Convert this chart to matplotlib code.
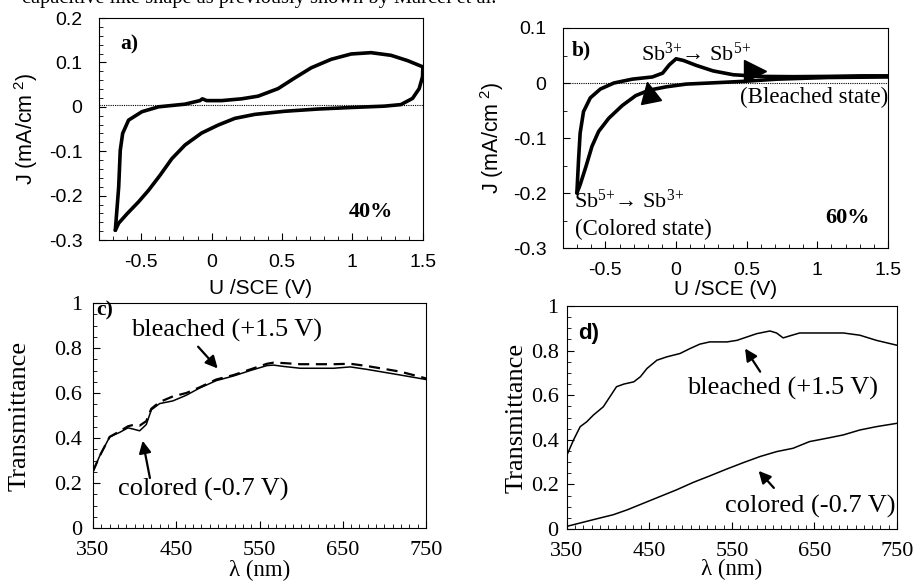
import numpy as np
import matplotlib
matplotlib.use('Agg')
import matplotlib.pyplot as plt
from matplotlib.ticker import MultipleLocator
from matplotlib.markers import MarkerStyle
from matplotlib.transforms import Affine2D

# ---- data ----
# a) 40 % : cyclic voltammogram
a_up_u = [-0.684, -0.660, -0.649, -0.632, -0.590, -0.495, -0.377, -0.189, -0.083, -0.066,
          -0.035, 0.071, 0.212, 0.330, 0.472, 0.590, 0.708, 0.849, 0.991, 1.132, 1.274, 1.392, 1.5]
a_up_j = [-0.278, -0.180, -0.098, -0.060, -0.030, -0.011, 0.000, 0.006, 0.014, 0.018,
          0.014, 0.014, 0.018, 0.024, 0.041, 0.065, 0.088, 0.107, 0.119, 0.122, 0.116, 0.104, 0.090]
a_dn_u = [1.5, 1.498, 1.474, 1.427, 1.344, 1.226, 0.991, 0.755, 0.519, 0.307, 0.165, 0.047,
          -0.071, -0.189, -0.283, -0.366, -0.448, -0.519, -0.601, -0.660, -0.684]
a_dn_j = [0.090, 0.068, 0.041, 0.019, 0.005, 0.0015, -0.0015, -0.005, -0.010, -0.017, -0.026,
          -0.041, -0.059, -0.086, -0.117, -0.154, -0.188, -0.214, -0.241, -0.262, -0.278]

# b) 60 %
b_up_u = [-0.702, -0.690, -0.679, -0.655, -0.607, -0.536, -0.440, -0.310, -0.167, -0.095,
          -0.048, 0.000, 0.052, 0.143, 0.262, 0.405, 0.595, 0.833, 1.071, 1.310, 1.5]
b_up_j = [-0.200, -0.139, -0.091, -0.052, -0.027, -0.011, 0.000, 0.007, 0.011, 0.018,
          0.033, 0.044, 0.041, 0.032, 0.022, 0.015, 0.012, 0.0115, 0.012, 0.013, 0.013]
b_dn_u = [1.5, 1.071, 0.714, 0.476, 0.238, 0.071, -0.071, -0.190, -0.286, -0.381, -0.476,
          -0.548, -0.595, -0.638, -0.679, -0.702]
b_dn_j = [0.011, 0.010, 0.007, 0.003, 0.000, -0.002, -0.007, -0.013, -0.023, -0.041, -0.064,
          -0.088, -0.115, -0.152, -0.185, -0.200]
b_arrow_u = [0.56, -0.19]
b_arrow_j = [0.021, -0.016]

# c) 40 % transmittance
c_wl = [350, 358, 370, 382, 392, 398, 406, 414, 420, 430, 446, 462, 478, 498, 519, 539,
        559, 567, 579, 599, 639, 659, 679, 719, 750]
c_colored = [0.252, 0.32, 0.405, 0.425, 0.445, 0.44, 0.432, 0.46, 0.525, 0.553, 0.565, 0.59,
             0.622, 0.655, 0.676, 0.70, 0.722, 0.724, 0.718, 0.71, 0.71, 0.716, 0.705, 0.68, 0.66]
c_bleached = [0.252, 0.32, 0.405, 0.43, 0.452, 0.458, 0.455, 0.475, 0.53, 0.56, 0.585, 0.600,
              0.625, 0.66, 0.68, 0.705, 0.73, 0.735, 0.733, 0.728, 0.728, 0.73, 0.72, 0.695, 0.665]

# d) 60 % transmittance
d_wl_b = [350, 358, 366, 374, 382, 394, 402, 410, 419, 431, 439, 447, 459, 471, 487, 499,
          511, 523, 544, 556, 568, 580, 596, 604, 612, 620, 632, 665, 685, 705, 725, 750]
d_bleached = [0.332, 0.40, 0.459, 0.481, 0.511, 0.548, 0.593, 0.638, 0.65, 0.66, 0.683, 0.72,
              0.757, 0.772, 0.787, 0.809, 0.829, 0.839, 0.839, 0.846, 0.861, 0.876, 0.888,
              0.879, 0.857, 0.866, 0.879, 0.879, 0.879, 0.869, 0.846, 0.824]
d_wl_c = [350, 366, 382, 406, 423, 443, 463, 483, 503, 523, 543, 564, 584, 604, 624, 644,
          665, 685, 705, 725, 750]
d_colored = [0.012, 0.027, 0.042, 0.064, 0.086, 0.116, 0.146, 0.176, 0.209, 0.238, 0.268,
             0.298, 0.325, 0.347, 0.362, 0.392, 0.407, 0.422, 0.444, 0.459, 0.474]

SANS = ['Liberation Sans', 'DejaVu Sans']
SERIF = ['Liberation Serif', 'DejaVu Serif']

fig = plt.figure(figsize=(9.2, 5.87), dpi=100)

# clipped line of body text above the figure
fig.text(0.024, 0.9945, 'capacitive like shape as previously shown by Marcel et al.',
         family=SERIF, fontsize=14.7, va='baseline', ha='left')


def style_axes(ax, font, size, xpad, ypad):
    for s in ax.spines.values():
        s.set_linewidth(0.8)
    ax.tick_params(which='both', direction='in', top=False, right=False)
    ax.tick_params(which='major', length=5, width=0.8, labelsize=size)
    ax.tick_params(axis='x', which='major', pad=xpad)
    ax.tick_params(axis='y', which='major', pad=ypad)
    ax.tick_params(which='minor', length=3, width=0.6)
    for lab in ax.get_xticklabels() + ax.get_yticklabels():
        lab.set_family(font)


SUP3 = '$\\mathregular{^{3{+}}}$'
SUP5 = '$\\mathregular{^{5{+}}}$'
ARROW = dict(arrowstyle='-|>', color='k', lw=1.6, mutation_scale=18)

# ---- a) ----
ax_a = fig.add_axes([0.1076, 0.5911, 0.352, 0.3782])
ax_a.plot(a_up_u, a_up_j, color='k', lw=2.6, solid_capstyle='round')
ax_a.plot(a_dn_u, a_dn_j, color='k', lw=2.6, solid_capstyle='round')
ax_a.axhline(0.004, color='k', lw=0.8, ls=(0, (1, 1)))
ax_a.set_xlim(-0.8, 1.5)
ax_a.set_ylim(-0.3, 0.2)
ax_a.set_xticks([-0.5, 0, 0.5, 1, 1.5])
ax_a.set_xticklabels(['-0.5', '0', '0.5', '1', '1.5'])
ax_a.set_yticks([-0.3, -0.2, -0.1, 0, 0.1, 0.2])
ax_a.set_yticklabels(['-0.3', '-0.2', '-0.1', '0', '0.1', '0.2'])
ax_a.xaxis.set_minor_locator(MultipleLocator(0.1))
ax_a.yaxis.set_minor_locator(MultipleLocator(0.02))
style_axes(ax_a, SANS, 14, 10, 12)
ax_a.set_xlabel('U /SCE (V)', family=SANS, fontsize=15, labelpad=6)
ax_a.set_ylabel('J (mA/cm$\\mathregular{^{\\ 2}}$)', family=SANS, fontsize=15.5, labelpad=6)
ax_a.text(0.065, 0.86, 'a)', transform=ax_a.transAxes, family=SERIF, fontsize=15.5,
          fontweight='bold')
ax_a.text(0.77, 0.105, '40%', transform=ax_a.transAxes, family=SERIF, fontsize=16,
          fontweight='bold')

# ---- b) ----
ax_b = fig.add_axes([0.612, 0.5775, 0.3532, 0.3748])
ax_b.plot(b_up_u, b_up_j, color='k', lw=2.6, solid_capstyle='round')
ax_b.plot(b_dn_u, b_dn_j, color='k', lw=2.6, solid_capstyle='round')
ax_b.axhline(0, color='k', lw=0.8, ls=(0, (1, 1)))
ax_b.plot(b_arrow_u[0], b_arrow_j[0], marker='>', ms=16, color='k', ls='none')
ax_b.plot(b_arrow_u[1], b_arrow_j[1],
          marker=MarkerStyle('^', transform=Affine2D().rotate_deg(12)),
          ms=15, color='k', ls='none')
ax_b.set_xlim(-0.8, 1.5)
ax_b.set_ylim(-0.3, 0.1)
ax_b.set_xticks([-0.5, 0, 0.5, 1, 1.5])
ax_b.set_xticklabels(['-0.5', '0', '0.5', '1', '1.5'])
ax_b.set_yticks([-0.3, -0.2, -0.1, 0, 0.1])
ax_b.set_yticklabels(['-0.3', '-0.2', '-0.1', '0', '0.1'])
ax_b.xaxis.set_minor_locator(MultipleLocator(0.1))
ax_b.yaxis.set_minor_locator(MultipleLocator(0.05))
style_axes(ax_b, SANS, 14, 10, 12)
ax_b.set_xlabel('U /SCE (V)', family=SANS, fontsize=15, labelpad=1)
ax_b.set_ylabel('J (mA/cm$\\mathregular{^{\\ 2}}$)', family=SANS, fontsize=15.5, labelpad=5)
ax_b.text(-0.74, 0.06, 'b)', family=SERIF, fontsize=15.5, fontweight='bold', va='center')
ax_b.text(-0.25, 0.052, 'Sb' + SUP3 + '\u2192 Sb' + SUP5,
          family=SERIF, fontsize=16, va='center')
ax_b.text(1.5, -0.027, '(Bleached state)', family=SERIF, fontsize=16.5, va='center', ha='right')
ax_b.text(-0.72, -0.215, 'Sb' + SUP5 + '\u2192 Sb' + SUP3,
          family=SERIF, fontsize=16, va='center')
ax_b.text(-0.715, -0.267, '(Colored state)', family=SERIF, fontsize=16.5, va='center')
ax_b.text(1.37, -0.245, '60%', family=SERIF, fontsize=16, fontweight='bold',
          va='center', ha='right')

# ---- c) ----
ax_c = fig.add_axes([0.1011, 0.1005, 0.362, 0.3833])
ax_c.plot(c_wl, c_colored, color='k', lw=1.1)
ax_c.plot(c_wl, c_bleached, color='k', lw=1.6, ls=(0, (5, 3)))
ax_c.set_xlim(350, 750)
ax_c.set_ylim(0, 1)
ax_c.set_xticks([350, 450, 550, 650, 750])
ax_c.set_yticks([0, 0.2, 0.4, 0.6, 0.8, 1])
ax_c.set_yticklabels(['0', '0.2', '0.4', '0.6', '0.8', '1'])
ax_c.xaxis.set_minor_locator(MultipleLocator(10))
ax_c.yaxis.set_minor_locator(MultipleLocator(0.05))
style_axes(ax_c, SERIF, 16, 9, 8)
ax_c.set_xlabel('\u03bb (nm)', family=SERIF, fontsize=16.5, labelpad=0)
ax_c.set_ylabel('Transmittance', family=SERIF, fontsize=19, labelpad=17)
ax_c.text(354, 0.965, 'c)', family=SERIF, fontsize=15.5, fontweight='bold', va='center')
ax_c.text(396, 0.88, 'bleached (+1.5 V)', family=SERIF, fontsize=19, va='center')
ax_c.annotate('', xy=(502, 0.70), xytext=(474, 0.815), arrowprops=ARROW)
ax_c.text(380, 0.17, 'colored (-0.7 V)', family=SERIF, fontsize=19, va='center')
ax_c.annotate('', xy=(409, 0.40), xytext=(419, 0.21), arrowprops=ARROW)

# ---- d) ----
ax_d = fig.add_axes([0.6163, 0.0988, 0.3587, 0.3799])
ax_d.plot(d_wl_b, d_bleached, color='k', lw=1.1)
ax_d.plot(d_wl_c, d_colored, color='k', lw=1.1)
ax_d.set_xlim(350, 750)
ax_d.set_ylim(0, 1)
ax_d.set_xticks([350, 450, 550, 650, 750])
ax_d.set_yticks([0, 0.2, 0.4, 0.6, 0.8, 1])
ax_d.set_yticklabels(['0', '0.2', '0.4', '0.6', '0.8', '1'])
ax_d.xaxis.set_minor_locator(MultipleLocator(10))
ax_d.yaxis.set_minor_locator(MultipleLocator(0.05))
style_axes(ax_d, SERIF, 16, 9, 6)
ax_d.set_xlabel('\u03bb (nm)', family=SERIF, fontsize=16.5, labelpad=-1)
ax_d.set_ylabel('Transmittance', family=SERIF, fontsize=19, labelpad=2)
ax_d.text(364, 0.875, 'd)', family=SANS, fontsize=16, fontweight='bold', va='center')
ax_d.text(496, 0.63, 'bleached (+1.5 V)', family=SERIF, fontsize=19, va='center')
ax_d.annotate('', xy=(564, 0.82), xytext=(586, 0.695), arrowprops=ARROW)
ax_d.text(541, 0.10, 'colored (-0.7 V)', family=SERIF, fontsize=19, va='center')
ax_d.annotate('', xy=(580, 0.27), xytext=(603, 0.175), arrowprops=ARROW)

fig.savefig('out.png', dpi=100)
